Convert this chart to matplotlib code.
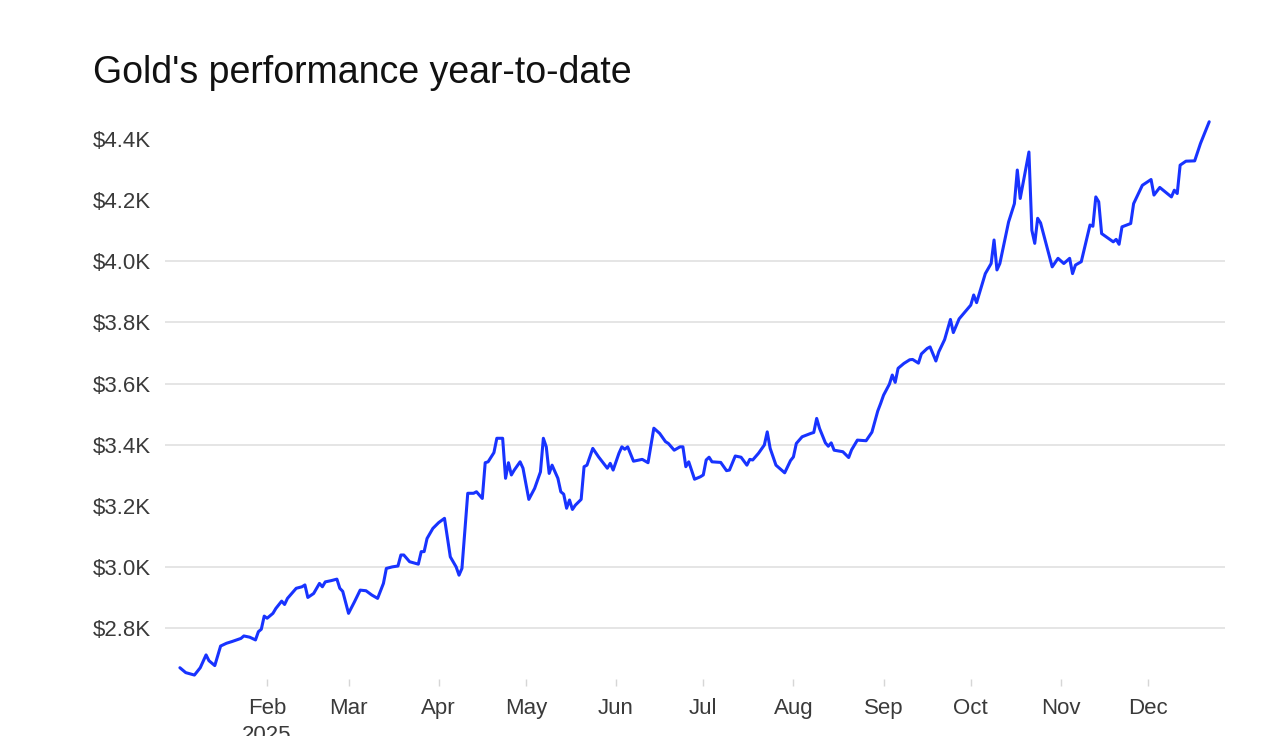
import numpy as np
import pandas as pd
import matplotlib
matplotlib.use("Agg")
import matplotlib.pyplot as plt
from matplotlib.ticker import FuncFormatter

plt.rcParams["font.family"] = ["Liberation Sans", "DejaVu Sans"]

# --- data (gold spot USD/oz, 2025) ---
dates = [
    "01-02", "01-04", "01-07", "01-09", "01-11", "01-12", "01-14", "01-16", "01-18", "01-20",
    "01-23", "01-24", "01-26", "01-28", "01-29", "01-30", "01-31", "02-01", "02-03", "02-04",
    "02-06", "02-07", "02-08", "02-11", "02-13", "02-14", "02-15", "02-17", "02-19", "02-20",
    "02-21", "02-23", "02-25", "02-26", "02-27", "03-01", "03-03", "03-05", "03-07", "03-09",
    "03-11", "03-13", "03-14", "03-16", "03-18", "03-19", "03-20", "03-22", "03-25", "03-26",
    "03-27", "03-28", "03-30", "04-01", "04-03", "04-05", "04-07", "04-08", "04-09", "04-11",
    "04-13", "04-14", "04-16", "04-17", "04-18", "04-20", "04-21", "04-23", "04-24", "04-25",
    "04-26", "04-27", "04-29", "04-30", "05-02", "05-04", "05-06", "05-07", "05-08", "05-09",
    "05-10", "05-12", "05-13", "05-14", "05-15", "05-16", "05-17", "05-18", "05-20", "05-21",
    "05-22", "05-24", "05-26", "05-29", "05-30", "05-31", "06-02", "06-03", "06-04", "06-05",
    "06-07", "06-10", "06-12", "06-14", "06-16", "06-18", "06-19", "06-21", "06-23", "06-24",
    "06-25", "06-26", "06-28", "06-30", "07-01", "07-02", "07-03", "07-04", "07-07", "07-09",
    "07-10", "07-12", "07-14", "07-16", "07-17", "07-18", "07-20", "07-22", "07-23", "07-24",
    "07-26", "07-29", "07-31", "08-01", "08-02", "08-04", "08-07", "08-08", "08-09", "08-10",
    "08-12", "08-13", "08-14", "08-15", "08-18", "08-20", "08-21", "08-23", "08-26", "08-28",
    "08-30", "08-31", "09-01", "09-03", "09-04", "09-05", "09-06", "09-08", "09-10", "09-11",
    "09-13", "09-14", "09-16", "09-17", "09-19", "09-20", "09-22", "09-24", "09-25", "09-27",
    "10-01", "10-02", "10-03", "10-06", "10-08", "10-09", "10-10", "10-11", "10-14", "10-16",
    "10-17", "10-18", "10-21", "10-22", "10-23", "10-24", "10-25", "10-29", "10-31", "11-02",
    "11-04", "11-05", "11-06", "11-08", "11-11", "11-12", "11-13", "11-14", "11-15", "11-19",
    "11-20", "11-21", "11-22", "11-25", "11-26", "11-29", "12-02", "12-03", "12-05", "12-09",
    "12-10", "12-11", "12-12", "12-14", "12-17", "12-19", "12-22",
]
prices = [
    2670, 2654, 2646, 2670, 2712, 2693, 2677, 2741, 2750, 2756,
    2766, 2774, 2770, 2761, 2788, 2796, 2839, 2832, 2848, 2864,
    2888, 2877, 2897, 2930, 2935, 2941, 2900, 2913, 2946, 2935,
    2951, 2955, 2960, 2930, 2920, 2848, 2885, 2924, 2922, 2908,
    2897, 2946, 2995, 3000, 3003, 3039, 3039, 3017, 3009, 3050,
    3050, 3093, 3126, 3145, 3159, 3033, 3000, 2973, 2995, 3241,
    3241, 3246, 3224, 3341, 3344, 3374, 3421, 3421, 3290, 3341,
    3301, 3317, 3344, 3323, 3221, 3257, 3311, 3421, 3393, 3306,
    3333, 3290, 3246, 3238, 3192, 3219, 3188, 3202, 3221, 3328,
    3333, 3388, 3360, 3323, 3339, 3317, 3372, 3393, 3385, 3393,
    3346, 3352, 3341, 3454, 3437, 3410, 3404, 3382, 3393, 3393,
    3328, 3344, 3287, 3295, 3301, 3350, 3359, 3344, 3342, 3315,
    3317, 3363, 3359, 3333, 3352, 3350, 3372, 3399, 3442, 3388,
    3333, 3308, 3348, 3360, 3404, 3426, 3437, 3440, 3486, 3453,
    3406, 3395, 3406, 3382, 3377, 3358, 3383, 3415, 3413, 3441,
    3510, 3535, 3562, 3598, 3628, 3604, 3650, 3666, 3678, 3679,
    3667, 3697, 3715, 3720, 3674, 3704, 3744, 3810, 3767, 3812,
    3857, 3890, 3865, 3960, 3993, 4070, 3972, 3993, 4129, 4189,
    4299, 4206, 4358, 4102, 4059, 4141, 4126, 3982, 4010, 3993,
    4010, 3960, 3988, 3999, 4119, 4115, 4211, 4195, 4091, 4064,
    4072, 4056, 4113, 4124, 4189, 4249, 4268, 4217, 4242, 4211,
    4233, 4222, 4315, 4328, 4329, 4386, 4457,
]
y_ticks = [2800, 3000, 3200, 3400, 3600, 3800, 4000, 4200, 4400]
# the reference only shows rules at these levels
grid_levels = [2800, 3000, 3400, 3600, 3800, 4000]
month_ticks = ["02-01", "03-01", "04-01", "05-01", "06-01", "07-01",
               "08-01", "09-01", "10-01", "11-01", "12-01"]
month_labels = ["Feb\n2025", "Mar", "Apr", "May", "Jun", "Jul",
                "Aug", "Sep", "Oct", "Nov", "Dec"]
title = "Gold's performance year-to-date"

x = pd.to_datetime(["2025-" + d for d in dates])
x_month = pd.to_datetime(["2025-" + d for d in month_ticks])

fig = plt.figure(figsize=(12.8, 7.36), dpi=100)
ax = fig.add_axes([0.1289, 0.0774, 0.8281, 0.7663])

ax.plot(x, prices, color="#1833ff", linewidth=2.2, solid_joinstyle="round",
        solid_capstyle="round", zorder=3)

for g in grid_levels:
    ax.axhline(g, color="#e3e3e3", linewidth=1.3, zorder=0)

ax.set_xlim(pd.Timestamp("2024-12-27 21:00"), pd.Timestamp("2025-12-27 10:00"))
ax.set_ylim(2633, 4479)

ax.set_yticks(y_ticks)
ax.yaxis.set_major_formatter(FuncFormatter(lambda v, _: f"${v / 1000:.1f}K"))
ax.tick_params(axis="y", length=0, pad=51.8, labelsize=16, labelcolor="#3a3a3a")
for lab in ax.get_yticklabels():
    lab.set_horizontalalignment("left")

ax.set_xticks(x_month)
ax.set_xticklabels(month_labels, linespacing=1.35)
ax.tick_params(axis="x", length=5, width=1, color="#d6d6d6", pad=9,
               labelsize=16, labelcolor="#3a3a3a")

for s in ax.spines.values():
    s.set_visible(False)

fig.text(93 / 1280, 1 - 83 / 736, title, fontsize=27, color="#111111",
         ha="left", va="baseline")

fig.savefig("out.png", dpi=100)
